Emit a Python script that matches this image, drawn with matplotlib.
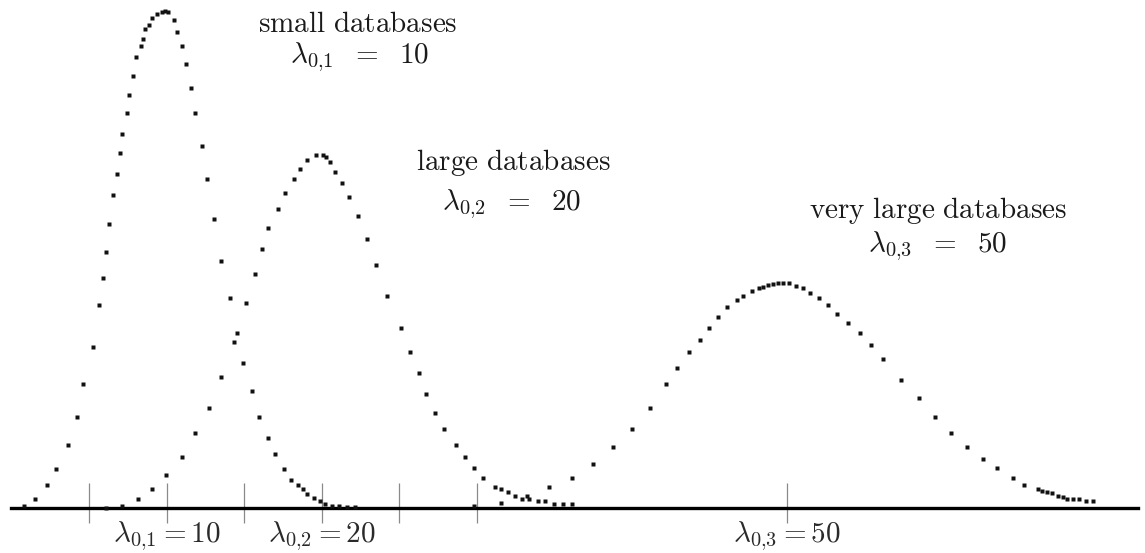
import matplotlib
matplotlib.use("Agg")
import matplotlib.pyplot as plt

plt.rcParams['mathtext.fontset'] = 'cm'

# ---------------- data ----------------
# x in units of lambda, y as probability density
small_x = [0.77, 1.48, 2.26, 2.84, 3.61, 4.19, 4.58, 5.23, 5.61, 5.84, 6.06, 6.29,
           6.52, 6.77, 6.97, 7.10, 7.42, 7.55, 7.81, 8.00, 8.32, 8.45, 8.58, 8.84,
           9.03, 9.35, 9.68, 9.87, 10.06, 10.45, 10.65, 10.97, 11.23, 11.55, 11.81,
           12.26, 12.58, 13.03, 13.48, 14.06, 14.52, 14.90, 15.48, 15.94, 16.52,
           16.97, 17.55, 18.00, 18.45, 18.77, 19.03, 19.48, 19.87, 20.19, 20.65,
           21.10, 21.61, 22.13]
small_y = [0.0005, 0.0023, 0.0058, 0.0099, 0.0160, 0.0231, 0.0315, 0.0409, 0.0515,
           0.0584, 0.0650, 0.0722, 0.0795, 0.0848, 0.0901, 0.0950, 0.1003, 0.1049,
           0.1097, 0.1145, 0.1173, 0.1191, 0.1216, 0.1227, 0.1244, 0.1254, 0.1260,
           0.1262, 0.1260, 0.1239, 0.1209, 0.1173, 0.1127, 0.1067, 0.1003, 0.0919,
           0.0835, 0.0734, 0.0627, 0.0533, 0.0444, 0.0368, 0.0297, 0.0231, 0.0178,
           0.0137, 0.0099, 0.0071, 0.0058, 0.0048, 0.0036, 0.0025, 0.0018, 0.0010,
           0.0005, 0.0005, 0.0003, 0.0003]

large_x = [6.06, 7.10, 8.13, 9.03, 9.94, 10.97, 11.81, 12.71, 13.48, 14.32, 15.10,
           15.68, 16.13, 16.52, 17.16, 17.61, 18.19, 18.58, 19.03, 19.61, 20.06,
           20.26, 20.52, 20.84, 21.29, 21.74, 22.32, 22.90, 23.48, 24.19, 25.10,
           25.68, 26.26, 26.71, 27.29, 27.87, 28.65, 29.23, 29.81, 30.39, 31.16,
           31.55, 32.00, 32.45, 32.90, 33.35, 33.94, 34.39, 34.97, 35.55, 36.13]
large_y = [0.0001, 0.0005, 0.0023, 0.0048, 0.0084, 0.0130, 0.0190, 0.0254, 0.0333,
           0.0422, 0.0521, 0.0594, 0.0658, 0.0711, 0.0759, 0.0800, 0.0835, 0.0861,
           0.0884, 0.0896, 0.0896, 0.0891, 0.0879, 0.0853, 0.0825, 0.0790, 0.0742,
           0.0683, 0.0617, 0.0538, 0.0457, 0.0396, 0.0343, 0.0289, 0.0241, 0.0201,
           0.0160, 0.0130, 0.0102, 0.0076, 0.0053, 0.0048, 0.0041, 0.0030, 0.0023,
           0.0023, 0.0018, 0.0018, 0.0010, 0.0010, 0.0010]

vlarge_x = [29.81, 31.55, 33.23, 34.65, 36.13, 37.48, 38.77, 40.00, 41.16, 42.19,
            42.90, 43.68, 44.39, 44.97, 45.55, 46.13, 46.77, 47.16, 47.74, 48.19,
            48.45, 48.77, 49.10, 49.42, 49.74, 50.13, 50.58, 51.03, 51.48, 52.06,
            52.65, 53.23, 53.94, 54.71, 55.42, 56.19, 57.35, 58.52, 59.55, 60.58,
            61.61, 62.65, 63.55, 64.58, 65.29, 66.19, 66.45, 66.77, 67.10, 67.48,
            67.81, 68.06, 68.45, 68.84, 69.29, 69.74]
vlarge_y = [0.0005, 0.0013, 0.0030, 0.0053, 0.0076, 0.0112, 0.0155, 0.0201, 0.0254,
            0.0315, 0.0356, 0.0396, 0.0427, 0.0457, 0.0485, 0.0510, 0.0528, 0.0538,
            0.0551, 0.0559, 0.0561, 0.0566, 0.0569, 0.0571, 0.0571, 0.0571, 0.0564,
            0.0559, 0.0546, 0.0533, 0.0515, 0.0493, 0.0470, 0.0444, 0.0414, 0.0378,
            0.0325, 0.0279, 0.0231, 0.0190, 0.0155, 0.0124, 0.0102, 0.0076, 0.0058,
            0.0048, 0.0043, 0.0041, 0.0038, 0.0030, 0.0028, 0.0023, 0.0023, 0.0023,
            0.0018, 0.0018]

tick_values = [5, 10, 15, 20, 25, 30, 50]
tick_label_values = [10, 20, 50]
tick_labels = [r'$\lambda_{0{,}1} = 10$', r'$\lambda_{0{,}2} = 20$', r'$\lambda_{0{,}3} = 50$']

curve_names = [r'$\mathrm{small\ databases}$', r'$\mathrm{large\ databases}$',
               r'$\mathrm{very\ large\ databases}$']
curve_params = [r'$\lambda_{0{,}1}\ \;=\ \;10$', r'$\lambda_{0{,}2}\ \;=\ \;20$',
                r'$\lambda_{0{,}3}\ \;=\ \;50$']

# ---------------- figure ----------------
W, H = 1145, 553
fig = plt.figure(figsize=(W / 100, H / 100), dpi=100)
ax = fig.add_axes([0, 0, 1, 1])
ax.axis('off')

PX_PER_X = 15.5
X0_PX = 12
BASE_PX = 508
PX_PER_Y = 3938
ax.set_xlim(-X0_PX / PX_PER_X, (W - X0_PX) / PX_PER_X)
ax.set_ylim((BASE_PX - H) / PX_PER_Y, BASE_PX / PX_PER_Y)

dot = dict(ls='none', marker='s', ms=2.3, color='#111111', mec='none')
for xs, ys in [(small_x, small_y), (large_x, large_y), (vlarge_x, vlarge_y)]:
    ax.plot(xs, ys, **dot, zorder=3)

# axis line
ax.axhline(0, xmin=11 / W, xmax=1138 / W, color='black', lw=2.4, zorder=2)
# ticks
ax.vlines(tick_values, (BASE_PX - 523) / PX_PER_Y, (BASE_PX - 483) / PX_PER_Y,
          color='#8a8a8a', lw=0.9, zorder=1)

for v, lab in zip(tick_label_values, tick_labels):
    ax.annotate(lab, xy=(v, 0), xytext=(0, -34), textcoords='offset pixels',
                ha='center', va='baseline', fontsize=21, color='#2a2a2a')

def fx(px):
    return px / W

def fy(py):
    return 1 - py / H

name_pos = [(358, 32), (513, 170), (938, 218)]
param_pos = [(360, 63), (512, 210), (938, 252)]
for name, (px, py) in zip(curve_names, name_pos):
    ax.text(fx(px), fy(py), name, transform=ax.transAxes, ha='center',
            va='baseline', fontsize=21, color='#1a1a1a')
for par, (px, py) in zip(curve_params, param_pos):
    ax.text(fx(px), fy(py), par, transform=ax.transAxes, ha='center',
            va='baseline', fontsize=21, color='#1a1a1a')

fig.savefig('out.png', dpi=100, facecolor='white')
